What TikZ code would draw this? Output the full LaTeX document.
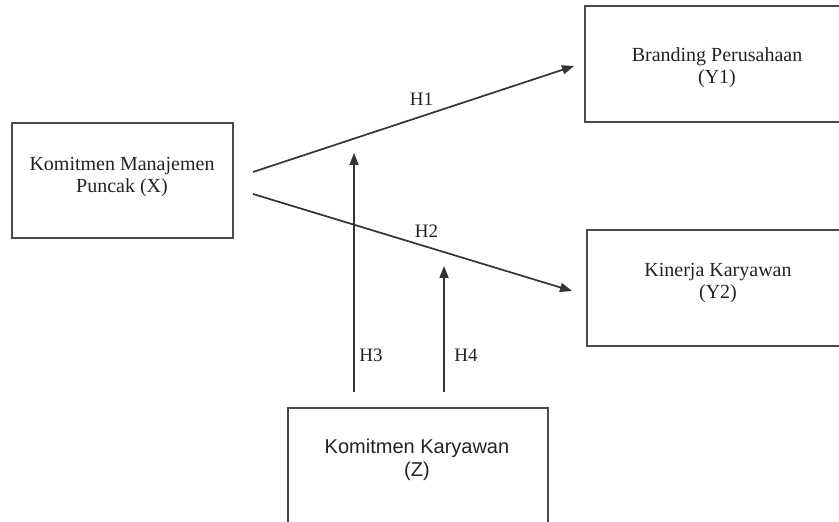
\documentclass[tikz,border=0pt]{standalone}
\usepackage{fontspec}
\setmainfont{Liberation Serif}
\newfontfamily\arialfont{Liberation Sans}
\usetikzlibrary{calc,arrows.meta}

\definecolor{boxgray}{HTML}{4A4A4A}
\definecolor{linegray}{HTML}{333333}
\definecolor{textgray}{HTML}{222222}

\tikzset{
  box/.style={rectangle, draw=boxgray, line width=1pt, inner sep=0pt},
  boxtext/.style={align=center, text=textgray, inner sep=0pt,
    font=\fontsize{10}{11}\selectfont},
  hyp/.style={draw=linegray, line width=0.85pt,
    -{Triangle[length=6pt,width=4.5pt]}},
  hlabel/.style={text=textgray, inner sep=0pt, font=\fontsize{9.5}{11}\selectfont}
}

\begin{document}
\begin{tikzpicture}[x=0.5pt, y=-0.5pt]
  \useasboundingbox (0,0) rectangle (839,522);
  \clip (0,0) rectangle (839,522);

  \node (xbox) [box, minimum width=110.5pt, minimum height=57.5pt] at (122.5,180.5) {};
  \node (y1box) [box, minimum width=137.5pt, minimum height=58pt] at (722.5,64.5) {};
  \node (y2box) [box, minimum width=136.5pt, minimum height=57.75pt] at (723.5,288.25) {};
  \node (zbox) [box, minimum width=130.25pt, minimum height=66pt] at (417.75,474) {};

  \node (xtext) [boxtext] at (122,177) {Komitmen Manajemen\\Puncak (X)};
  \node (y1text) [boxtext] at (717,68) {Branding Perusahaan\\(Y1)};
  \node (y2text) [boxtext] at (718,283.5) {Kinerja Karyawan\\(Y2)};
  \node (ztext) [boxtext, font=\arialfont\fontsize{10}{11.75}\selectfont]
    at (417,460) {Komitmen Karyawan\\(Z)};

  \coordinate (h1s) at ($(xbox.east)+(19,-8.5)$);
  \coordinate (h1e) at ($(y1box.west)+(-10,1.5)$);
  \coordinate (h2s) at ($(xbox.east)+(19,13.5)$);
  \coordinate (h2e) at ($(y2box.west)+(-14,2.75)$);
  \coordinate (h3s) at ($(zbox.north)+(-63.75,-15)$);
  \coordinate (h3e) at ($(zbox.north)+(-63.75,-254)$);
  \coordinate (h4s) at ($(zbox.north)+(26.25,-15)$);
  \coordinate (h4e) at ($(zbox.north)+(26.25,-141)$);

  \draw[hyp] (h1s) -- (h1e);
  \draw[hyp] (h2s) -- (h2e);
  \draw[hyp] (h3s) -- (h3e);
  \draw[hyp] (h4s) -- (h4e);

  \node (h1) [hlabel] at (421.5,99) {H1};
  \node (h2) [hlabel] at (426.5,231) {H2};
  \node (h3) [hlabel] at (371,355.5) {H3};
  \node (h4) [hlabel] at (466,355.5) {H4};
\end{tikzpicture}
\end{document}
